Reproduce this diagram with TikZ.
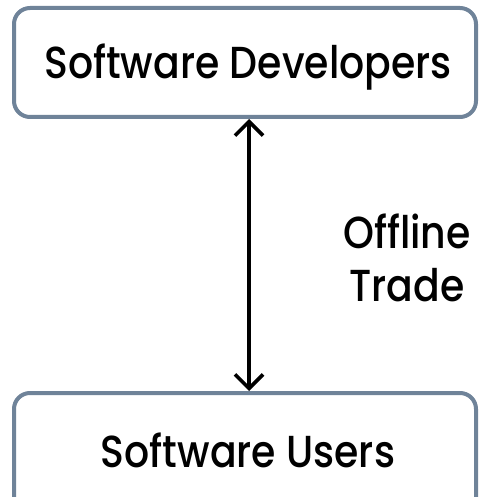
\documentclass[tikz,border=0pt]{standalone}
\usepackage{fontspec}
\setmainfont{Poppins}[UprightFont=* Medium]
\usetikzlibrary{arrows.meta}
\definecolor{boxborder}{HTML}{6F8399}
\tikzset{
  rolebox/.style={draw=boxborder, line width=4pt, rounded corners=16pt, fill=white},
  roletext/.style={font=\fontsize{39}{44}\selectfont, text=black, inner sep=0pt, xscale=1.01, yscale=1.15, transform shape},
  trade/.style={line width=3.6pt, {Straight Barb[length=14pt,width=28pt,line width=3.6pt]}-{Straight Barb[length=14pt,width=28pt,line width=3.6pt]}}
}
\begin{document}
\begin{tikzpicture}[x=1pt,y=-1pt]
\useasboundingbox (0,0) rectangle (479,497);
\clip (0,0) rectangle (479,497);
\draw[rolebox] (14,8) rectangle (476,117);
\draw[rolebox] (14,393) rectangle (476,520);
\node[roletext] (dev) at (248,67) {Software Developers};
\node[roletext] (usr) at (248,450) {Software Users};
\coordinate (top) at (249,119);
\coordinate (bot) at (249,391);
\draw[trade] (top) -- (bot);
\node[roletext, align=center] (lbl) at (407,258) {Offline\\[2pt]Trade};
\end{tikzpicture}
\end{document}
